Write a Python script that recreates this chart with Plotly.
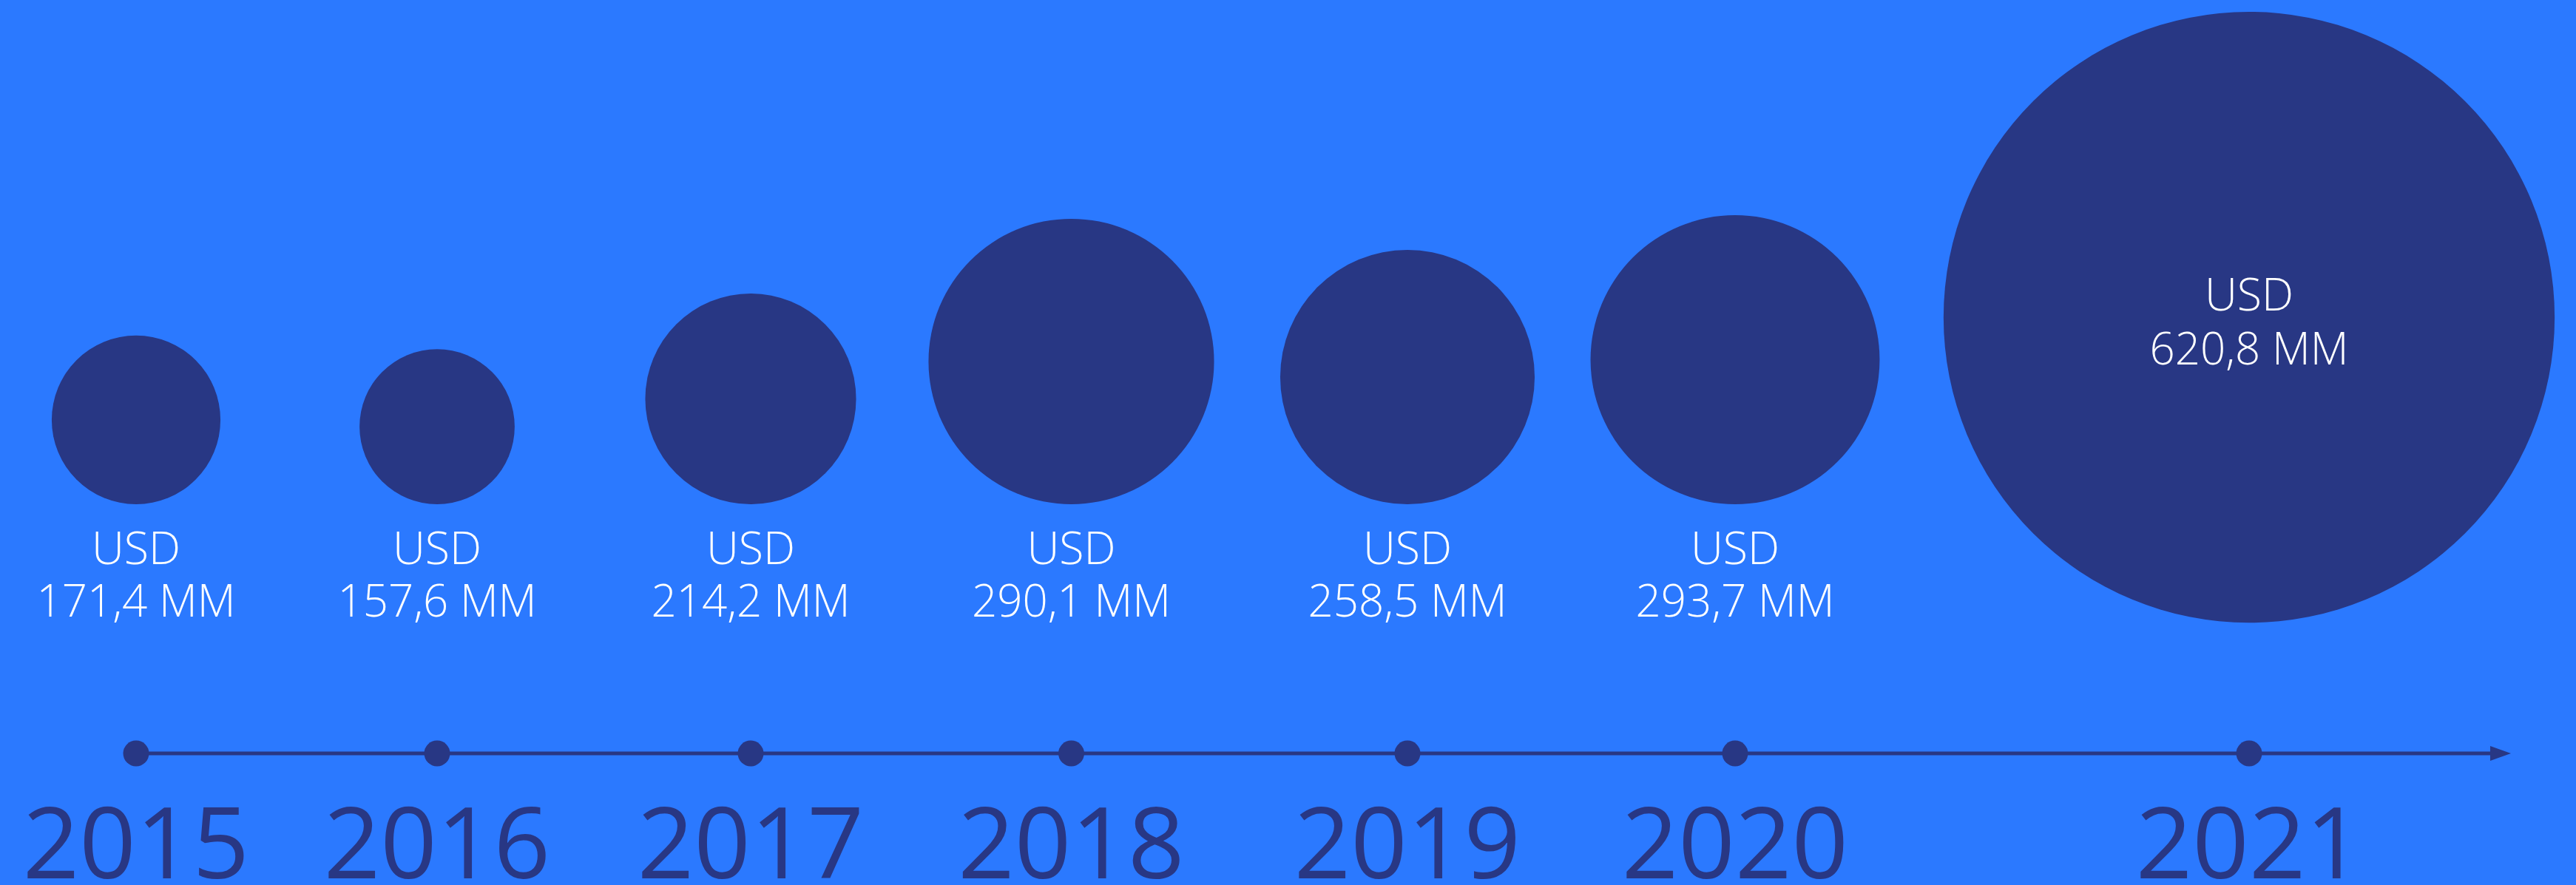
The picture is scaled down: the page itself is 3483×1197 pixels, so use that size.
import plotly.graph_objects as go

# Annual figures (USD millions)
years = ["2015", "2016", "2017", "2018", "2019", "2020", "2021"]
values = [171.4, 157.6, 214.2, 290.1, 258.5, 293.7, 620.8]
value_labels = ["171,4 MM", "157,6 MM", "214,2 MM", "290,1 MM", "258,5 MM", "293,7 MM", "620,8 MM"]
currency = "USD"

# Layout helpers (pixel-based canvas)
W, H = 3483, 1197
centers_x = [184, 591, 1015, 1448.5, 1903, 2346, 3041]
px_per_unit = 1.331          # bubble diameter in px per USD million
baseline_y = 682             # bubbles sit on this line
big_top_y = 16               # the last bubble hangs from the top
timeline_y = 1019
arrow_tip_x = 3395

BG = "#2B79FF"
NAVY = "#283784"
FONT = "Open Sans"

diam = [v * px_per_unit for v in values]
centers_y = [baseline_y - d / 2 for d in diam[:-1]] + [big_top_y + diam[-1] / 2]

fig = go.Figure()

# Timeline line
fig.add_trace(go.Scatter(
    x=[centers_x[0], arrow_tip_x - 20], y=[timeline_y, timeline_y],
    mode="lines", line=dict(color=NAVY, width=5), hoverinfo="skip", showlegend=False,
))
# Timeline dots
fig.add_trace(go.Scatter(
    x=centers_x, y=[timeline_y] * len(years), mode="markers",
    marker=dict(size=35, color=NAVY, line=dict(width=0)),
    hoverinfo="skip", showlegend=False,
))

# Bubbles: diameter proportional to value
fig.add_trace(go.Scatter(
    x=centers_x, y=centers_y, mode="markers",
    marker=dict(size=values, sizemode="diameter", sizeref=1 / px_per_unit,
                color=NAVY, opacity=1, line=dict(width=0)),
    hovertext=[f"{y}: {currency} {l}" for y, l in zip(years, value_labels)],
    hoverinfo="text", showlegend=False,
))

# Value labels: below bubbles, except the largest which holds its label inside
lab_usd_y = [748] * (len(years) - 1) + [405]
lab_val_y = [819] * (len(years) - 1) + [478]
fig.add_trace(go.Scatter(
    x=centers_x, y=lab_usd_y, mode="text", text=[currency] * len(years),
    textposition="middle center",
    textfont=dict(family=FONT, size=61, color="white", weight=300),
    hoverinfo="skip", showlegend=False,
))
fig.add_trace(go.Scatter(
    x=centers_x, y=lab_val_y, mode="text", text=value_labels,
    textposition="middle center",
    textfont=dict(family=FONT, size=60, color="white", weight=300),
    hoverinfo="skip", showlegend=False,
))

# Year labels
fig.add_trace(go.Scatter(
    x=centers_x, y=[1154] * len(years), mode="text", text=years,
    textposition="middle center",
    textfont=dict(family=FONT, size=134, color=NAVY),
    hoverinfo="skip", showlegend=False,
))

# Arrowhead at the end of the timeline
fig.add_shape(
    type="path",
    path=f"M {arrow_tip_x - 28} {timeline_y - 10} L {arrow_tip_x} {timeline_y} L {arrow_tip_x - 28} {timeline_y + 10} Z",
    xref="x", yref="y", fillcolor=NAVY, line=dict(width=0),
)

fig.update_xaxes(range=[0, W], visible=False, fixedrange=True)
fig.update_yaxes(range=[H, 0], visible=False, fixedrange=True)
fig.update_layout(
    width=W, height=H,
    margin=dict(l=0, r=0, t=0, b=0),
    paper_bgcolor=BG, plot_bgcolor=BG,
    showlegend=False,
)

fig.write_html("out.html", config={"displayModeBar": False})
